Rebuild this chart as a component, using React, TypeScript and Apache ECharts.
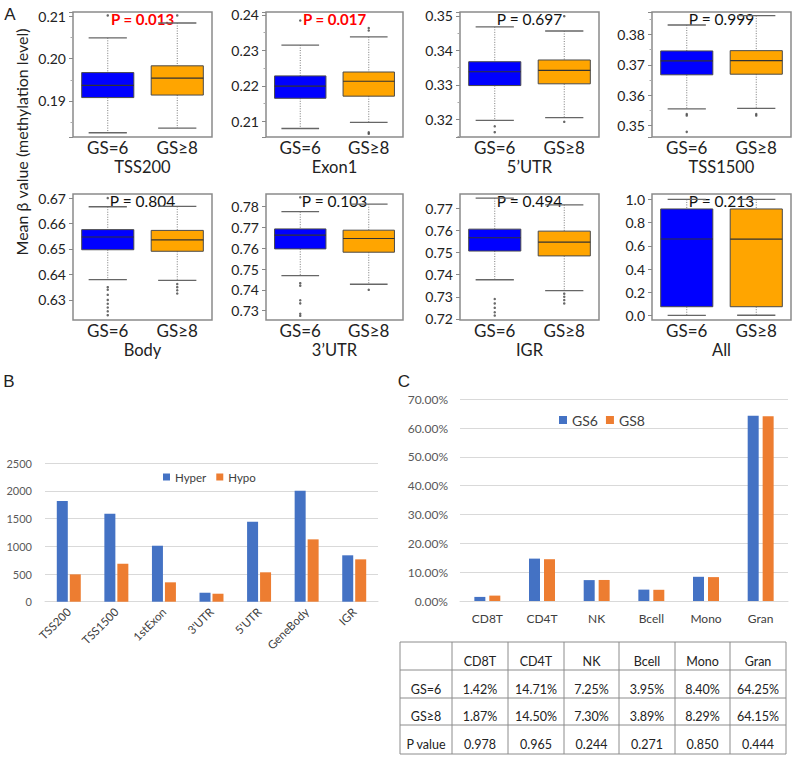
import React, { useEffect, useRef } from 'react';
import * as echarts from 'echarts';

// ---------- Panel A: box plots ----------
const boxGroups = ['GS=6', 'GS≥8'];
const regions = ['TSS200', 'Exon1', '5’UTR', 'TSS1500', 'Body', '3’UTR', 'IGR', 'All'];
const regionP = ['0.013', '0.017', '0.697', '0.999', '0.804', '0.103', '0.494', '0.213'];
const regionSignificant = [true, true, false, false, false, false, false, false];

// [lower whisker, Q1, median, Q3, upper whisker]
const tss200Gs6 = [0.1825, 0.1908, 0.1937, 0.1967, 0.2049];
const tss200Gs8 = [0.1836, 0.1914, 0.1954, 0.1983, 0.2084];
const tss200Out6 = [0.2102];
const tss200Out8 = [0.2102];
const exon1Gs6 = [0.208, 0.2165, 0.2199, 0.2228, 0.2315];
const exon1Gs8 = [0.2097, 0.2171, 0.2213, 0.2239, 0.2338];
const exon1Out6 = [0.2384];
const exon1Out8 = [0.2363, 0.2356, 0.2069, 0.2065];
const utr5Gs6 = [0.3197, 0.3298, 0.3338, 0.3367, 0.3468];
const utr5Gs8 = [0.3205, 0.3303, 0.3342, 0.3372, 0.3456];
const utr5Out6 = [0.318, 0.3163];
const utr5Out8 = [0.3193, 0.3499];
const tss1500Gs6 = [0.3554, 0.3667, 0.3713, 0.3746, 0.3832];
const tss1500Gs8 = [0.3556, 0.3669, 0.3714, 0.3747, 0.3863];
const tss1500Out6 = [0.3537, 0.3532, 0.3478];
const tss1500Out8 = [0.3537, 0.3532];
const bodyGs6 = [0.638, 0.6497, 0.6547, 0.6576, 0.6666];
const bodyGs8 = [0.6377, 0.6491, 0.6536, 0.6573, 0.6667];
const bodyOut6 = [0.67, 0.635, 0.634, 0.632, 0.63, 0.6285, 0.627, 0.6255, 0.624];
const bodyOut8 = [0.6362, 0.635, 0.6338, 0.6325];
const utr3Gs6 = [0.7468, 0.7597, 0.7663, 0.7693, 0.7776];
const utr3Gs8 = [0.7427, 0.7581, 0.7647, 0.7687, 0.7812];
const utr3Out6 = [0.7845, 0.7432, 0.742, 0.735, 0.7335, 0.7285, 0.7275];
const utr3Out8 = [0.74];
const igrGs6 = [0.7377, 0.7507, 0.7567, 0.7606, 0.7746];
const igrGs8 = [0.7328, 0.7485, 0.7547, 0.7597, 0.7716];
const igrOut6 = [0.729, 0.727, 0.725, 0.723, 0.7215];
const igrOut8 = [0.7314, 0.73, 0.7285, 0.727];
const allGs6 = [0.003, 0.077, 0.659, 0.917, 0.999];
const allGs8 = [0.004, 0.077, 0.657, 0.917, 0.999];
const allOut6: number[] = [];
const allOut8: number[] = [];

const boxStats6 = [tss200Gs6, exon1Gs6, utr5Gs6, tss1500Gs6, bodyGs6, utr3Gs6, igrGs6, allGs6];
const boxStats8 = [tss200Gs8, exon1Gs8, utr5Gs8, tss1500Gs8, bodyGs8, utr3Gs8, igrGs8, allGs8];
const outliers6 = [tss200Out6, exon1Out6, utr5Out6, tss1500Out6, bodyOut6, utr3Out6, igrOut6, allOut6];
const outliers8 = [tss200Out8, exon1Out8, utr5Out8, tss1500Out8, bodyOut8, utr3Out8, igrOut8, allOut8];

const yMins = [0.1815, 0.2056, 0.3149, 0.3461, 0.6221, 0.7255, 0.7195, -0.037];
const yMaxs = [0.211, 0.2408, 0.3511, 0.3875, 0.6716, 0.7861, 0.7765, 1.0455];
const yTickSteps = [0.01, 0.01, 0.01, 0.01, 0.01, 0.01, 0.01, 0.2];
const yDecimals = [2, 2, 2, 2, 2, 2, 2, 1];

// ---------- Panel B ----------
const dmrRegions = ['TSS200', 'TSS1500', '1stExon', "3'UTR", "5'UTR", 'GeneBody', 'IGR'];
const hyperCounts = [1818, 1589, 1011, 162, 1444, 2004, 838];
const hypoCounts = [494, 686, 350, 144, 531, 1126, 765];

// ---------- Panel C ----------
const cellTypes = ['CD8T', 'CD4T', 'NK', 'Bcell', 'Mono', 'Gran'];
const gs6Pct = [1.42, 14.71, 7.25, 3.95, 8.4, 64.25];
const gs8Pct = [1.87, 14.5, 7.3, 3.89, 8.29, 64.15];
const cellP = ['0.978', '0.965', '0.244', '0.271', '0.850', '0.444'];

const FONT = 'Lato, "Noto Sans", sans-serif';
const boxColors = ['#0000FF', '#FFA500'];

function renderBox(params: any, api: any) {
  const c = api.value(0);
  const lo = api.coord([c, api.value(1)]);
  const q1 = api.coord([c, api.value(2)]);
  const md = api.coord([c, api.value(3)]);
  const q3 = api.coord([c, api.value(4)]);
  const hi = api.coord([c, api.value(5)]);
  const band = api.size([1, 0])[0];
  const bw = band * 0.75;
  const cw = band * 0.55;
  const x = lo[0];
  const whisker = { stroke: '#7a7a7a', lineWidth: 1, lineDash: [1, 1.5] };
  const cap = { stroke: '#666', lineWidth: 1.3 };
  return {
    type: 'group',
    children: [
      { type: 'line', shape: { x1: x, y1: hi[1], x2: x, y2: q3[1] }, style: whisker },
      { type: 'line', shape: { x1: x, y1: q1[1], x2: x, y2: lo[1] }, style: whisker },
      { type: 'line', shape: { x1: x - cw / 2, y1: hi[1], x2: x + cw / 2, y2: hi[1] }, style: cap },
      { type: 'line', shape: { x1: x - cw / 2, y1: lo[1], x2: x + cw / 2, y2: lo[1] }, style: cap },
      {
        type: 'rect',
        shape: { x: x - bw / 2, y: q3[1], width: bw, height: q1[1] - q3[1] },
        style: { fill: boxColors[params.dataIndex], stroke: '#4a4a4a', lineWidth: 1 },
      },
      { type: 'line', shape: { x1: x - bw / 2, y1: md[1], x2: x + bw / 2, y2: md[1] }, style: { stroke: '#333', lineWidth: 1.2 } },
    ],
  };
}

function txt(text: string, x: number, y: number, size: number, extra: any = {}) {
  return {
    type: 'text',
    x,
    y,
    silent: true,
    rotation: extra.rotation || 0,
    style: {
      text,
      fontSize: size,
      fontFamily: extra.fontFamily || FONT,
      fontWeight: extra.fontWeight || 'normal',
      fill: extra.fill || '#222',
      align: extra.align || 'center',
      textAlign: extra.align || 'center',
      verticalAlign: 'middle',
      textVerticalAlign: 'middle',
    },
  };
}

function buildOption() {
  const panelLeft = [73, 266, 460, 652];
  const panelWidth = [139, 137, 139, 139];
  const rowTop = [12, 194];
  const rowHeight = [125, 126];
  const titleY = [167, 350];
  const pY = [19, 201];

  const grid: any[] = [];
  const xAxis: any[] = [];
  const yAxis: any[] = [];
  const series: any[] = [];
  const graphic: any[] = [];

  for (let i = 0; i < 8; i++) {
    const col = i % 4;
    const row = Math.floor(i / 4);
    const left = panelLeft[col];
    const width = panelWidth[col];
    grid.push({
      left,
      top: rowTop[row],
      width,
      height: rowHeight[row],
      show: true,
      borderColor: '#8a8a8a',
      borderWidth: 1.5,
      backgroundColor: 'rgba(0,0,0,0)',
      outerBoundsMode: 'none',
    });
    xAxis.push({
      gridIndex: i,
      type: 'category',
      data: boxGroups,
      axisLine: { show: false },
      axisTick: { show: false },
      splitLine: { show: false },
      axisLabel: { fontSize: 17, color: '#222', margin: 2, fontFamily: FONT },
    });
    const dec = yDecimals[i];
    yAxis.push({
      gridIndex: i,
      type: 'value',
      min: yMins[i],
      max: yMaxs[i],
      minInterval: yTickSteps[i],
      maxInterval: yTickSteps[i],
      splitNumber: 4,
      axisLine: { show: false },
      axisTick: { show: true, length: 4, lineStyle: { color: '#888', width: 1 } },
      minorTick: { show: row === 0, splitNumber: 2, length: 2.5, lineStyle: { color: '#aaa' } },
      splitLine: { show: false },
      minorSplitLine: { show: false },
      axisLabel: {
        showMinLabel: false,
        showMaxLabel: false,
        fontSize: 14,
        color: '#222',
        margin: 7,
        fontFamily: FONT,
        formatter: (v: number) => v.toFixed(dec),
      },
    });
    series.push({
      type: 'custom',
      name: 'box' + i,
      xAxisIndex: i,
      yAxisIndex: i,
      renderItem: renderBox,
      silent: true,
      clip: false,
      encode: { x: 0, y: [1, 2, 3, 4, 5] },
      data: [
        [0, ...boxStats6[i]],
        [1, ...boxStats8[i]],
      ],
    });
    series.push({
      type: 'scatter',
      name: 'out' + i,
      xAxisIndex: i,
      yAxisIndex: i,
      silent: true,
      symbolSize: 2.5,
      itemStyle: { color: '#444' },
      data: [...outliers6[i].map((v) => [0, v]), ...outliers8[i].map((v) => [1, v])],
    });
    graphic.push(txt(regions[i], left + width / 2, titleY[row], 16.5));
    const sig = regionSignificant[i];
    graphic.push(
      txt('P = ' + regionP[i], left + width / 2, pY[row], sig ? 15 : 15.5, {
        fill: sig ? '#FF0000' : '#111',
        fontWeight: sig ? 'bold' : 'normal',
      })
    );
  }

  // Panel B
  grid.push({ left: 45, top: 463.3, width: 333, height: 138.4, outerBoundsMode: 'none' });
  xAxis.push({
    gridIndex: 8,
    type: 'category',
    data: dmrRegions,
    axisLine: { lineStyle: { color: '#d9d9d9' } },
    axisTick: { show: false },
    axisLabel: { rotate: 45, fontSize: 11.5, color: '#404040', margin: 8, fontFamily: FONT, interval: 0 },
  });
  yAxis.push({
    gridIndex: 8,
    type: 'value',
    min: 0,
    max: 2500,
    interval: 500,
    axisLine: { show: false },
    axisTick: { show: false },
    splitLine: { lineStyle: { color: '#d9d9d9' } },
    axisLabel: {
      fontSize: 11,
      color: '#595959',
      margin: 13,
      fontFamily: FONT,
      formatter: (v: number) => String(v),
    },
  });
  series.push({
    type: 'bar',
    name: 'Hyper',
    xAxisIndex: 8,
    yAxisIndex: 8,
    data: hyperCounts,
    barWidth: 11,
    barGap: '18%',
    itemStyle: { color: '#4472C4' },
  });
  series.push({
    type: 'bar',
    name: 'Hypo',
    xAxisIndex: 8,
    yAxisIndex: 8,
    data: hypoCounts,
    barWidth: 11,
    barGap: '18%',
    itemStyle: { color: '#ED7D31' },
  });

  // Panel C
  grid.push({ left: 460, top: 399.3, width: 328, height: 201.7, outerBoundsMode: 'none' });
  xAxis.push({
    gridIndex: 9,
    type: 'category',
    data: cellTypes,
    axisLine: { lineStyle: { color: '#d9d9d9' } },
    axisTick: { show: false },
    axisLabel: { fontSize: 12, color: '#404040', margin: 11, fontFamily: FONT },
  });
  yAxis.push({
    gridIndex: 9,
    type: 'value',
    min: 0,
    max: 70,
    interval: 10,
    axisLine: { show: false },
    axisTick: { show: false },
    splitLine: { lineStyle: { color: '#d9d9d9' } },
    axisLabel: {
      fontSize: 12,
      color: '#595959',
      margin: 12,
      fontFamily: FONT,
      formatter: (v: number) => v.toFixed(2) + '%',
    },
  });
  series.push({
    type: 'bar',
    name: 'GS6',
    xAxisIndex: 9,
    yAxisIndex: 9,
    data: gs6Pct,
    barWidth: 11,
    barGap: '36%',
    itemStyle: { color: '#4472C4' },
  });
  series.push({
    type: 'bar',
    name: 'GS8',
    xAxisIndex: 9,
    yAxisIndex: 9,
    data: gs8Pct,
    barWidth: 11,
    barGap: '36%',
    itemStyle: { color: '#ED7D31' },
  });

  // letters and y-title
  graphic.push(txt('A', 10, 14, 17, { fontFamily: '"Liberation Sans", Arial, sans-serif' }));
  graphic.push(txt('B', 9, 381, 17, { fontFamily: '"Liberation Sans", Arial, sans-serif' }));
  graphic.push(txt('C', 404, 381, 17, { fontFamily: '"Liberation Sans", Arial, sans-serif' }));
  graphic.push(txt('Mean β value (methylation level)', 21, 142, 16, { rotation: Math.PI / 2 }));

  // Table
  const tX = [400, 452, 508, 564, 619, 675, 730, 786];
  const tY = [642, 670, 698, 725, 754];
  const lineStyle = { stroke: '#8c8c8c', lineWidth: 1 };
  tX.forEach((x) =>
    graphic.push({ type: 'line', silent: true, shape: { x1: x, y1: tY[0], x2: x, y2: tY[4] }, style: lineStyle })
  );
  tY.forEach((y) =>
    graphic.push({ type: 'line', silent: true, shape: { x1: tX[0], y1: y, x2: tX[7], y2: y }, style: lineStyle })
  );
  const rowLabels = ['', 'GS=6', 'GS≥8', 'P value'];
  const rows = [
    cellTypes,
    gs6Pct.map((v) => v.toFixed(2) + '%'),
    gs8Pct.map((v) => v.toFixed(2) + '%'),
    cellP,
  ];
  for (let r = 0; r < 4; r++) {
    const cy = (tY[r] + tY[r + 1]) / 2 + 5;
    if (rowLabels[r]) graphic.push(txt(rowLabels[r], (tX[0] + tX[1]) / 2, cy, 12.5));
    rows[r].forEach((t, c) => graphic.push(txt(t, (tX[c + 1] + tX[c + 2]) / 2, cy, 12.5)));
  }

  return {
    animation: false,
    backgroundColor: '#fff',
    textStyle: { fontFamily: FONT },
    grid,
    xAxis,
    yAxis,
    series,
    graphic,
    legend: [
      {
        data: ['Hyper', 'Hypo'],
        left: 158,
        top: 466,
        icon: 'rect',
        itemWidth: 7,
        itemHeight: 7,
        itemGap: 10,
        textStyle: { fontSize: 11.5, color: '#404040', fontFamily: FONT },
      },
      {
        data: ['GS6', 'GS8'],
        left: 554,
        top: 408,
        icon: 'rect',
        itemWidth: 8,
        itemHeight: 8,
        itemGap: 8,
        textStyle: { fontSize: 14, color: '#404040', fontFamily: FONT },
      },
    ],
  };
}

export default function App() {
  const ref = useRef<HTMLDivElement>(null);
  useEffect(() => {
    if (!ref.current) return;
    const chart = echarts.init(ref.current, undefined, { renderer: 'svg' });
    chart.setOption(buildOption() as any);
    return () => chart.dispose();
  }, []);
  return (
    <div
      ref={ref}
      style={{ position: 'fixed', left: 0, top: 0, width: 800, height: 757, background: '#fff' }}
    />
  );
}
